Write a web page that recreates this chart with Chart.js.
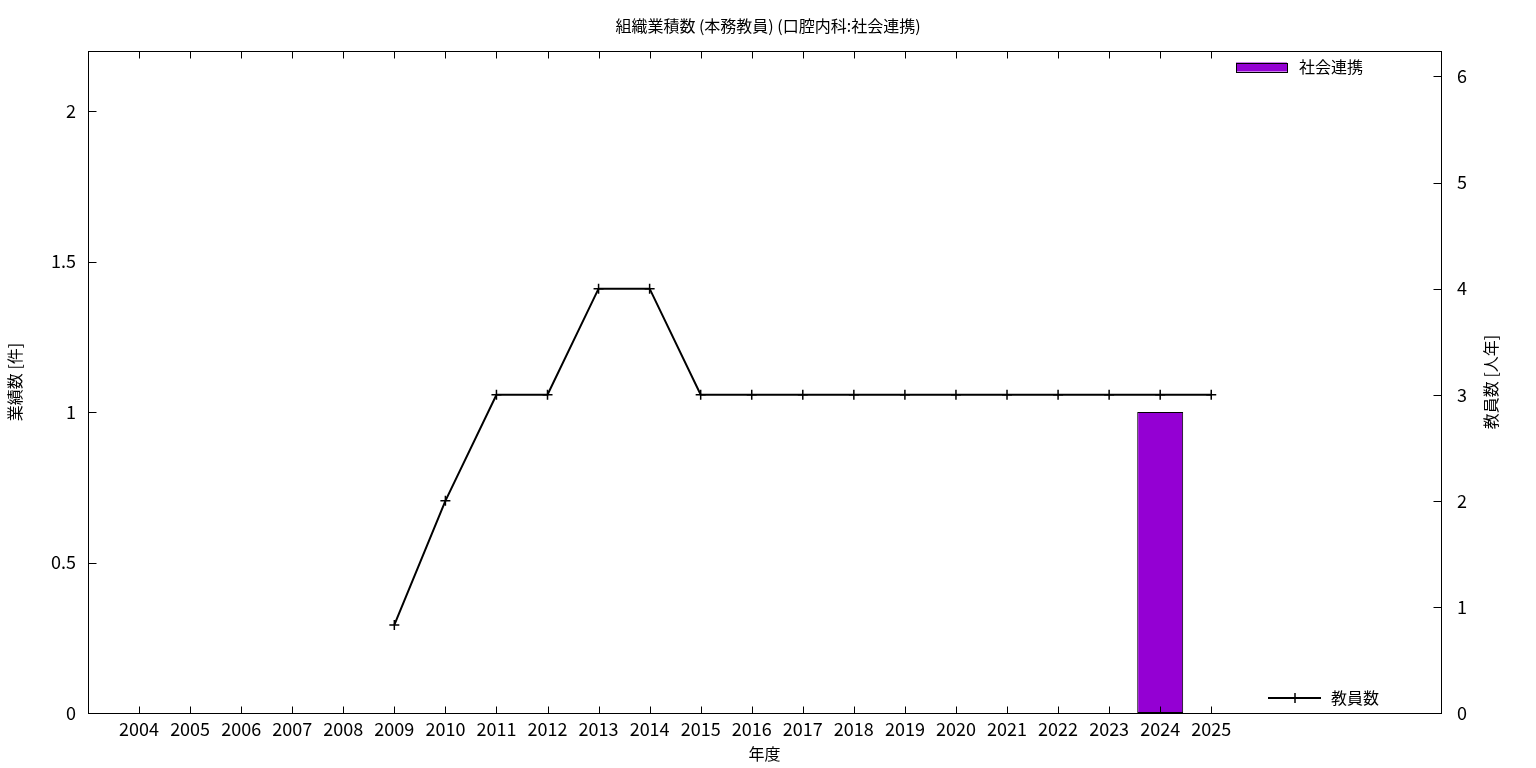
<!DOCTYPE html>
<html>
<head>
<meta charset="utf-8">
<script src="https://cdn.jsdelivr.net/npm/chart.js@4.4.1/dist/chart.umd.min.js"></script>
<style>
  html, body { margin: 0; padding: 0; background: #fff; }
  #wrap { width: 1536px; height: 768px; }
</style>
</head>
<body>
<div id="wrap"><canvas id="works_chart_area"></canvas></div>
<script>
const years = [2004, 2005, 2006, 2007, 2008, 2009, 2010, 2011, 2012, 2013, 2014,
  2015, 2016, 2017, 2018, 2019, 2020, 2021, 2022, 2023, 2024, 2025];
// 社会連携 (件)
const works_count = [0, 0, 0, 0, 0, 0, 0, 0, 0, 0, 0,
  0, 0, 0, 0, 0, 0, 0, 0, 0, 1, 0];
// 教員数 (人年)
const staff_count = [null, null, null, null, null, 0.83, 2, 3, 3, 4, 4,
  3, 3, 3, 3, 3, 3, 3, 3, 3, 3, 3];
const left_ticks = [0, 0.5, 1, 1.5, 2];
const right_ticks = [0, 1, 2, 3, 4, 5, 6];

const FONT = '"Noto Sans CJK JP", "Noto Sans", sans-serif';
Chart.defaults.font.family = FONT;
Chart.defaults.color = "#000";

// gnuplot-like frame, inward ticks, axis titles and legend
const gnuplot_frame = {
  id: "gnuplot_frame",
  afterDatasetsDraw(chart) {
    const { ctx, chartArea: a, scales } = chart;
    ctx.save();
    ctx.strokeStyle = "#000";
    ctx.lineWidth = 1;
    const L = Math.round(a.left) + 0.5, R = Math.round(a.right) + 0.5;
    const T = Math.round(a.top) + 0.5, B = Math.round(a.bottom) + 0.5;
    ctx.strokeRect(L, T, R - L, B - T);

    ctx.beginPath();
    scales.x.ticks.forEach((t) => {
      const px = Math.round(scales.x.getPixelForValue(t.value)) + 0.5;
      ctx.moveTo(px, B); ctx.lineTo(px, B - 7);
      ctx.moveTo(px, T); ctx.lineTo(px, T + 7);
    });
    scales.y.ticks.forEach((t) => {
      const py = Math.round(scales.y.getPixelForValue(t.value)) + 0.5;
      ctx.moveTo(L, py); ctx.lineTo(L + 8, py);
    });
    scales.y1.ticks.forEach((t) => {
      const py = Math.round(scales.y1.getPixelForValue(t.value)) + 0.5;
      ctx.moveTo(R, py); ctx.lineTo(R - 8, py);
    });
    ctx.stroke();

    // axis titles
    ctx.fillStyle = "#000";
    ctx.font = "16px " + FONT;
    ctx.textAlign = "center";
    ctx.textBaseline = "middle";
    const midY = (a.top + a.bottom) / 2;
    ctx.save();
    ctx.translate(15, midY);
    ctx.rotate(-Math.PI / 2);
    ctx.fillText("業績数 [件]", 0, 0);
    ctx.restore();
    ctx.save();
    ctx.translate(1491, midY);
    ctx.rotate(-Math.PI / 2);
    ctx.fillText("教員数 [人年]", 0, 0);
    ctx.restore();

    // legend
    ctx.textAlign = "left";
    const by = a.top + 16;
    ctx.fillStyle = "#9400d3";
    ctx.fillRect(a.right - 205, by - 4.5, 51, 9);
    ctx.strokeRect(a.right - 205 + 0.5, Math.round(by - 4.5) + 0.5, 51, 9);
    ctx.fillStyle = "#000";
    ctx.fillText("社会連携", a.right - 142, by);

    const ly = Math.round(a.bottom - 15);
    ctx.lineWidth = 2;
    ctx.beginPath();
    ctx.moveTo(a.right - 173, ly); ctx.lineTo(a.right - 120, ly);
    ctx.stroke();
    ctx.lineWidth = 1.5;
    ctx.beginPath();
    ctx.moveTo(a.right - 146, ly - 5); ctx.lineTo(a.right - 146, ly + 5);
    ctx.stroke();
    ctx.fillText("教員数", a.right - 110, ly);
    ctx.restore();
  },
};

const works_chart_area = document.getElementById("works_chart_area").getContext("2d");
const works_chart = new Chart(works_chart_area, {
  type: "bar",
  data: {
    datasets: [
      {
        type: "line",
        label: "教員数",
        yAxisID: "y1",
        data: years.map((y, i) => ({ x: y, y: staff_count[i] })),
        borderColor: "#000",
        backgroundColor: "#000",
        borderWidth: 2,
        tension: 0,
        pointStyle: "cross",
        pointRadius: 5,
        pointBorderWidth: 1.5,
        pointBorderColor: "#000",
      },
      {
        type: "bar",
        label: "社会連携",
        yAxisID: "y",
        data: years.map((y, i) => ({ x: y, y: works_count[i] })),
        backgroundColor: "#9400d3",
        borderColor: "#000",
        borderWidth: 1,
        borderSkipped: false,
        barPercentage: 0.9,
        categoryPercentage: 1,
      },
    ],
  },
  options: {
    responsive: true,
    maintainAspectRatio: false,
    animation: false,
    layout: { padding: 0 },
    plugins: {
      legend: { display: false },
      tooltip: { enabled: false },
      title: {
        display: true,
        text: "組織業積数 (本務教員) (口腔内科:社会連携)",
        font: { size: 16, weight: "normal" },
        color: "#000",
        padding: { top: 16, bottom: 15.8 },
      },
    },
    scales: {
      x: {
        type: "linear",
        min: 2003,
        max: 2029.5,
        offset: false,
        grid: { display: false, tickLength: 0 },
        border: { display: false },
        afterBuildTicks: (scale) => { scale.ticks = years.map((v) => ({ value: v })); },
        afterFit: (scale) => { scale.height = 55; },
        ticks: {
          padding: 5,
          font: { size: 18 },
          autoSkip: false,
          maxRotation: 0,
          callback: (v) => String(v),
        },
        title: {
          display: true,
          text: "年度",
          font: { size: 16 },
          padding: { top: 0, bottom: 4 },
        },
      },
      y: {
        position: "left",
        min: 0,
        max: 2.2,
        grid: { display: false, tickLength: 0 },
        border: { display: false },
        afterBuildTicks: (scale) => { scale.ticks = left_ticks.map((v) => ({ value: v })); },
        afterFit: (scale) => { scale.width = 88; },
        ticks: { padding: 12, font: { size: 18 }, callback: (v) => String(v) },
      },
      y1: {
        position: "right",
        min: 0,
        max: 6.24,
        grid: { display: false, tickLength: 0 },
        border: { display: false },
        afterBuildTicks: (scale) => { scale.ticks = right_ticks.map((v) => ({ value: v })); },
        afterFit: (scale) => { scale.width = 95; },
        ticks: { padding: 16, font: { size: 18 }, callback: (v) => String(v) },
      },
    },
  },
  plugins: [gnuplot_frame],
});
</script>
</body>
</html>
